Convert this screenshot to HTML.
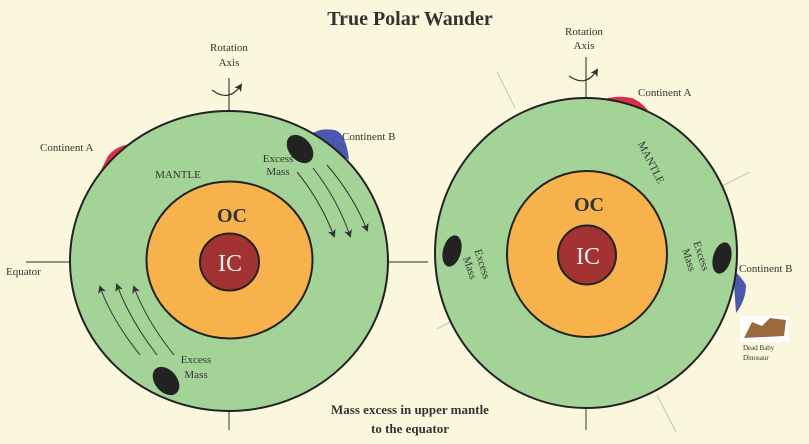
<!DOCTYPE html>
<html><head><meta charset="utf-8"><style>
html,body{margin:0;padding:0;background:#fbf7dc;}
svg{display:block;}
text{font-family:"Liberation Serif",serif;fill:#333;}
</style></head><body>
<svg width="809" height="444" viewBox="0 0 809 444" xmlns="http://www.w3.org/2000/svg">
<defs><marker id="ah" markerWidth="8" markerHeight="8" refX="6" refY="4" orient="auto" markerUnits="userSpaceOnUse"><path d="M0,0 L8,4 L0,8 L2,4 z" fill="#333"/></marker></defs>
<rect width="809" height="444" fill="#fbf7dc"/>
<text x="410" y="25" font-size="20" font-weight="bold" text-anchor="middle">True Polar Wander</text>

<!-- LEFT -->
<line x1="229" y1="78" x2="229" y2="111" stroke="#444" stroke-width="1.2"/>
<path d="M212,90 Q229,103 241,85" fill="none" stroke="#333" stroke-width="1.2" marker-end="url(#ah)"/>
<text x="229" y="51" font-size="11" text-anchor="middle">Rotation</text>
<text x="229" y="66" font-size="11" text-anchor="middle">Axis</text>
<line x1="26" y1="262" x2="70" y2="262" stroke="#555" stroke-width="1.2"/>
<line x1="388" y1="262" x2="428" y2="262" stroke="#555" stroke-width="1.2"/>
<line x1="229" y1="410" x2="229" y2="430" stroke="#555" stroke-width="1.2"/>
<text x="6" y="275" font-size="11">Equator</text>
<path d="M98,176 L108,156 Q116,146 130,144 L136,145 Z" fill="#d9304a"/>
<path d="M310,134 L320,130 Q335,128 340,133 Q347,141 349,160 Z" fill="#4a58b0"/>
<ellipse cx="229" cy="261" rx="159" ry="150" fill="#a3d397" stroke="#222" stroke-width="2"/>
<ellipse cx="229.5" cy="260" rx="83" ry="78.5" fill="#f7b24c" stroke="#222" stroke-width="2"/>
<ellipse cx="229.5" cy="262" rx="29.5" ry="28.5" fill="#a33232" stroke="#222" stroke-width="2"/>
<text x="232" y="222" font-size="20" font-weight="bold" text-anchor="middle">OC</text>
<text x="230" y="271" font-size="24" text-anchor="middle" style="fill:#eee">IC</text>
<text x="178" y="178" font-size="11" text-anchor="middle">MANTLE</text>
<text x="40" y="151" font-size="11">Continent A</text>
<text x="342" y="140" font-size="11">Continent B</text>
<ellipse cx="300" cy="149" rx="11" ry="16" transform="rotate(-40 300 149)" fill="#222"/>
<text x="278" y="162" font-size="11" text-anchor="middle">Excess</text>
<text x="278" y="175" font-size="11" text-anchor="middle">Mass</text>
<path d="M297,172 Q320,200 334,236" fill="none" stroke="#333" stroke-width="1" marker-end="url(#ah)"/>
<path d="M313,168 Q338,200 350,236" fill="none" stroke="#333" stroke-width="1" marker-end="url(#ah)"/>
<path d="M327,165 Q353,195 367,230" fill="none" stroke="#333" stroke-width="1" marker-end="url(#ah)"/>
<ellipse cx="166" cy="381" rx="11" ry="16" transform="rotate(-40 166 381)" fill="#222"/>
<text x="196" y="363" font-size="11" text-anchor="middle">Excess</text>
<text x="196" y="378" font-size="11" text-anchor="middle">Mass</text>
<path d="M140,355 Q112,320 100,287" fill="none" stroke="#333" stroke-width="1" marker-end="url(#ah)"/>
<path d="M157,355 Q130,320 117,285" fill="none" stroke="#333" stroke-width="1" marker-end="url(#ah)"/>
<path d="M174,355 Q146,320 134,287" fill="none" stroke="#333" stroke-width="1" marker-end="url(#ah)"/>

<!-- RIGHT -->
<line x1="497" y1="72" x2="515" y2="108" stroke="#bcc4c8" stroke-width="1"/>
<line x1="657" y1="395" x2="676" y2="432" stroke="#bcc4c8" stroke-width="1"/>
<line x1="722" y1="186" x2="750" y2="172" stroke="#bcc4c8" stroke-width="1"/>
<line x1="437" y1="329" x2="452" y2="321" stroke="#bcc4c8" stroke-width="1"/>
<line x1="586" y1="57" x2="586" y2="97" stroke="#444" stroke-width="1.2"/>
<line x1="586" y1="408" x2="586" y2="430" stroke="#555" stroke-width="1.2"/>
<path d="M569,76 Q586,88 597,70" fill="none" stroke="#333" stroke-width="1.2" marker-end="url(#ah)"/>
<text x="584" y="35" font-size="11" text-anchor="middle">Rotation</text>
<text x="584" y="49" font-size="11" text-anchor="middle">Axis</text>
<path d="M604,99 Q618,95 632,98 Q644,103 650,114 Z" fill="#d9304a"/>
<path d="M733,270 Q740,275 746,285 Q746,300 736,313 Z" fill="#4a58b0"/>
<ellipse cx="586" cy="253" rx="151" ry="155" fill="#a3d397" stroke="#222" stroke-width="2"/>
<ellipse cx="587" cy="254" rx="80" ry="83" fill="#f7b24c" stroke="#222" stroke-width="2"/>
<ellipse cx="587" cy="255" rx="29" ry="29.5" fill="#a33232" stroke="#222" stroke-width="2"/>
<text x="589" y="211" font-size="20" font-weight="bold" text-anchor="middle">OC</text>
<text x="588" y="264" font-size="24" text-anchor="middle" style="fill:#eee">IC</text>
<text x="0" y="0" font-size="11" text-anchor="middle" transform="translate(648,164) rotate(63)">MANTLE</text>
<text x="638" y="96" font-size="11">Continent A</text>
<text x="739" y="272" font-size="11">Continent B</text>
<ellipse cx="452" cy="251" rx="9" ry="16" transform="rotate(15 452 251)" fill="#222"/>
<ellipse cx="722" cy="258" rx="9" ry="16" transform="rotate(15 722 258)" fill="#222"/>
<text font-size="11" text-anchor="middle" transform="translate(479,265) rotate(72)"><tspan x="0" y="0">Excess</tspan><tspan x="0" y="13">Mass</tspan></text>
<text font-size="11" text-anchor="middle" transform="translate(698,257) rotate(72)"><tspan x="0" y="0">Excess</tspan><tspan x="0" y="13">Mass</tspan></text>
<rect x="740" y="316" width="49" height="26" fill="#fff"/>
<path d="M744,338 L752,322 L762,326 L770,318 L786,320 L784,336 Z" fill="#9a6a3c"/>
<text x="743" y="350" font-size="7">Dead Baby</text>
<text x="743" y="360" font-size="7">Dinosaur</text>

<text x="410" y="414" font-size="13" font-weight="bold" text-anchor="middle">Mass excess in upper mantle</text>
<text x="410" y="433" font-size="13" font-weight="bold" text-anchor="middle">to the equator</text>
</svg>
</body></html>
